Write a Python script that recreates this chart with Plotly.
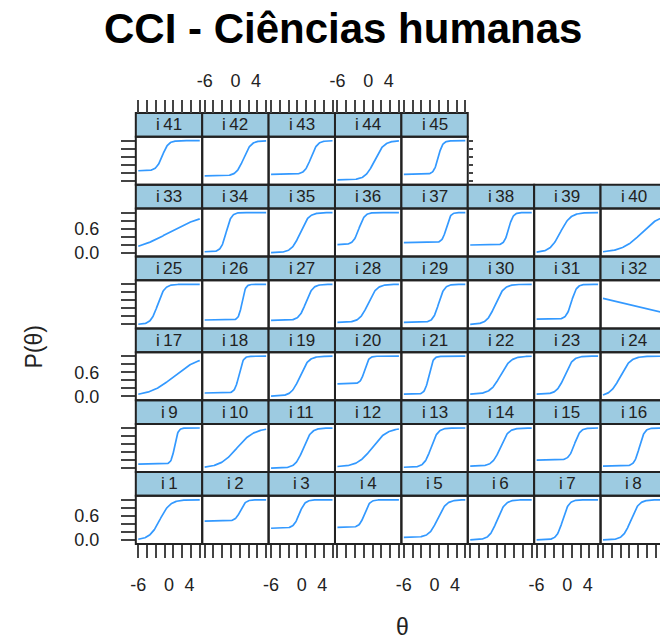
import numpy as np
import plotly.graph_objects as go

# ---------------- data (item parameters) ----------------
items = [f"i{k}" for k in range(1, 46)]
# slope a, location b, lower asymptote c, upper asymptote d
a_par = [1.0, 2.0, 1.8, 2.0, 1.2, 1.3, 1.7, 1.3,          # i1-i8
         3.0, 0.6, 1.3, 0.7, 1.5, 1.3, 1.8, 2.0,          # i9-i16
         0.42, 2.5, 1.2, 2.5, 2.5, 1.0, 1.3, 1.0,         # i17-i24
         1.5, 3.0, 1.5, 1.2, 1.8, 1.2, 2.0, -0.128,       # i25-i32
         0.28, 2.0, 1.2, 1.8, 2.5, 2.3, 1.0, 0.51,        # i33-i40
         1.7, 1.4, 1.6, 1.1, 2.3]                         # i41-i45
b_par = [-1.8, 1.0, -0.5, -0.7, 0.6, -0.74, -0.9, -0.55,
         1.1, 0.3, 0.3, 0.8, -0.7, -0.1, 1.4, 1.1,
         1.0, 0.7, -0.35, -0.7, -1.1, -0.1, -0.5, -2.6,
         -2.2, 1.3, 0.8, 0.0, 0.8, -1.1, 0.8, -1.14,
         0.0, -1.8, -0.3, -1.8, 2.3, 1.5, -1.4, 1.6,
         -1.3, 1.6, 1.8, 1.25, 0.7]
c_par = [0.0, 0.47, 0.29, 0.31, 0.06, 0.0, 0.0, 0.0,
         0.10, 0.0, 0.0, 0.03, 0.02, 0.05, 0.2, 0.05,
         0.0, 0.08, 0.0, 0.31, 0.05, 0.05, 0.05, 0.0,
         0.0, 0.11, 0.1, 0.05, 0.05, 0.0, 0.13, 0.0,
         0.0, 0.02, 0.0, 0.2, 0.25, 0.19, 0.0, 0.0,
         0.25, 0.12, 0.16, 0.02, 0.16]
d_par = [1.0] * 45

theta = np.linspace(-6, 6, 121)
x_tickmarks = [-6.0, -4.286, -2.571, -0.857, 0.857, 2.571, 4.286, 6.0]
x_labelvals = [-6, 0, 4]
x_labeltext = ["-6", "0", "4"]
y_ticks = [0.0, 0.2, 0.4, 0.6, 0.8, 1.0]
y_ticktext = ["0.0", "", "", "0.6", "", ""]

# ---------------- layout geometry (pixels) ----------------
W, H = 660, 643
NCOL, NROW = 8, 6
COL0, COLW = 131.0, 67.0
ROW0, ROWH, STRIPH = 114.0, 72.5, 24.0
XR = [-6.48, 6.48]
YR = [-0.1, 1.1]
LINE = "#3399ff"
STRIP = "#9dcbe1"
FONT = "Liberation Sans, Arial, sans-serif"
TICKC = "#444"

def px(x):
    return x / W

def py(y):
    return 1 - y / H

fig = go.Figure()
shapes = []
annotations = []
extra_id = 46
layout_upd = {}

for k in range(45):
    r_from_bottom = k // NCOL
    col = k % NCOL
    row = NROW - 1 - r_from_bottom  # 0 = top row
    left = COL0 + col * COLW
    right = left + COLW
    xr = list(XR)
    clipped = right > W
    if clipped:
        xr = [XR[0], XR[0] + (W - left) / COLW * (XR[1] - XR[0])]
        right = W
    s_top = ROW0 + row * ROWH
    s_bot = s_top + STRIPH
    p_bot = s_top + ROWH
    n = k + 1
    xa = f"xaxis{n}" if n > 1 else "xaxis"
    ya = f"yaxis{n}" if n > 1 else "yaxis"
    xref = f"x{n}" if n > 1 else "x"
    yref = f"y{n}" if n > 1 else "y"

    p = c_par[k] + (d_par[k] - c_par[k]) / (1 + np.exp(-a_par[k] * (theta - b_par[k])))
    fig.add_trace(go.Scatter(x=theta, y=p, mode="lines", xaxis=xref, yaxis=yref,
                             line=dict(color=LINE, width=1.7), showlegend=False,
                             hoverinfo="skip"))

    base_x = dict(domain=[px(left), px(right)], range=xr, showgrid=False, zeroline=False,
                  showline=False, fixedrange=True, anchor=yref, ticks="", showticklabels=False,
                  tickvals=x_tickmarks, tickcolor=TICKC, tickwidth=1.6, ticklen=13)
    xdict = dict(base_x)
    label_side = None
    if row == NROW - 1:  # bottom row
        xdict.update(ticks="outside", side="bottom")
        if col % 2 == 0:
            label_side = "bottom"
    if row == 0:  # top row, axis above strip
        xdict.update(ticks="outside", side="top", anchor="free", position=py(s_top))
        if col % 2 == 1:
            label_side = "top"
    layout_upd[xa] = xdict

    if label_side is not None:
        lid = extra_id
        extra_id += 1
        ldict = dict(base_x)
        ldict.pop("domain")
        ldict.update(overlaying=xref, tickvals=x_labelvals, ticktext=x_labeltext,
                     showticklabels=True, ticks="outside", tickcolor="rgba(0,0,0,0)",
                     tickfont=dict(family=FONT, size=18, color="#222"), side=label_side)
        if label_side == "bottom":
            ldict.update(ticklabelstandoff=12)
        else:
            ldict.update(anchor="free", position=py(s_top), ticklabelstandoff=6)
        layout_upd[f"xaxis{lid}"] = ldict
        fig.add_trace(go.Scatter(x=[], y=[], xaxis=f"x{lid}", yaxis=yref,
                                 showlegend=False, hoverinfo="skip"))

    ydict = dict(domain=[py(p_bot), py(s_bot)], range=YR, showgrid=False, zeroline=False,
                 showline=False, fixedrange=True, anchor=xref, ticks="", showticklabels=False,
                 tickvals=y_ticks, ticktext=y_ticktext,
                 tickfont=dict(family=FONT, size=18, color="#222"), tickcolor=TICKC,
                 tickwidth=1.6, ticklen=14)
    if col == 0:
        ydict.update(ticks="outside", side="left")
        if row % 2 == 1:
            ydict.update(showticklabels=True, ticklabelstandoff=18)
    if k == 44:
        ydict.update(ticks="outside", side="right", ticklen=4)
    layout_upd[ya] = ydict

    xr_px = right + (8 if clipped else 0)
    shapes.append(dict(type="rect", xref="paper", yref="paper", x0=px(left), x1=px(xr_px),
                       y0=py(s_bot), y1=py(s_top), fillcolor=STRIP,
                       line=dict(color="#222", width=2), layer="below"))
    shapes.append(dict(type="rect", xref="paper", yref="paper", x0=px(left), x1=px(xr_px),
                       y0=py(p_bot), y1=py(s_bot), fillcolor="rgba(0,0,0,0)",
                       line=dict(color="#222", width=2), layer="above"))
    annotations.append(dict(xref="paper", yref="paper", x=px(left + COLW / 2),
                            y=py((s_top + s_bot) / 2), text=items[k].replace("i", "i\u2009"),
                            showarrow=False, xanchor="center", yanchor="middle",
                            font=dict(family=FONT, size=17, color="#222")))

annotations.append(dict(xref="paper", yref="paper", x=px(340), y=py(29),
                        text="<b>CCI - Ciências humanas</b>", showarrow=False,
                        xanchor="center", yanchor="middle",
                        font=dict(family=FONT, size=42, color="black")))
annotations.append(dict(xref="paper", yref="paper", x=px(28), y=py(350), text="P(θ)",
                        textangle=-90, showarrow=False, xanchor="center", yanchor="middle",
                        font=dict(family=FONT, size=23, color="#222")))
annotations.append(dict(xref="paper", yref="paper", x=px(400), y=py(633), text="θ",
                        showarrow=False, xanchor="center", yanchor="middle",
                        font=dict(family=FONT, size=23, color="#222")))

fig.update_layout(layout_upd)
fig.update_layout(width=W, height=H, margin=dict(l=0, r=0, t=0, b=0),
                  paper_bgcolor="white", plot_bgcolor="white",
                  shapes=shapes, annotations=annotations, showlegend=False)
fig.write_html("out.html")
